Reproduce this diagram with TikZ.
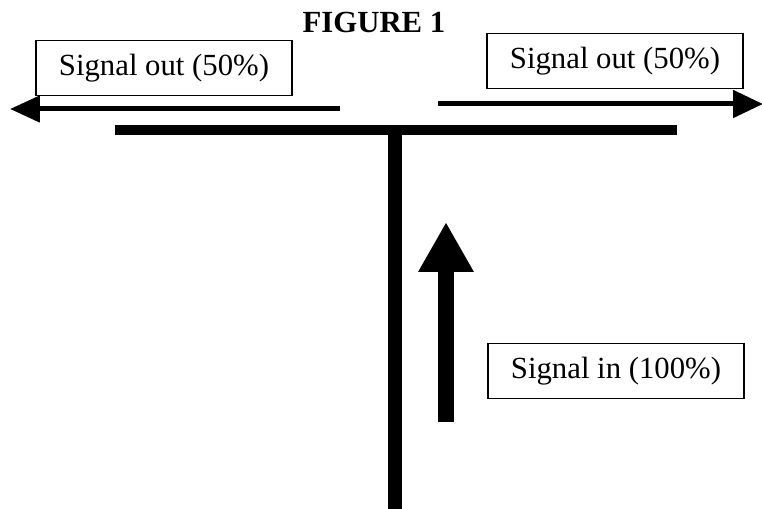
\documentclass[tikz,border=0pt]{standalone}
\usepackage{fontspec}
\setmainfont{Liberation Serif}
\usetikzlibrary{arrows.meta}
\begin{document}
\begin{tikzpicture}
  [x=0.02cm,y=-0.02cm,
   every node/.style={font=\fontsize{17.5}{20}\selectfont},
   signalbox/.style={draw,line width=0.8pt,minimum width=5.12cm,minimum height=1.1cm,inner sep=0pt}]
\useasboundingbox (0,0) rectangle (762,509);

\node (title) at (374,22) {\bfseries FIGURE 1};
\node (outl)[signalbox] at (164,68) {Signal out (50\%)};
  \node (outr)[signalbox] at (615,61) {Signal out (50\%)};
  \node (in)[signalbox] at (616,371) {Signal in (100\%)};

\coordinate (ls) at (340,109);
  \coordinate (le) at (10,109);
\coordinate (rs) at (438,104);
  \coordinate (re) at (763,104);
\coordinate (bl) at (115,130);
  \coordinate (br) at (677,130);
  \coordinate (bm) at (395,130);
  \coordinate (bb) at (395,509);
\coordinate (us) at (446,422);
  \coordinate (ue) at (446,222);

 \path [line width=0.1cm] (ls) edge [-{Triangle[length=0.6cm,width=0.52cm]}] (le);
 \path [line width=0.1cm] (rs) edge [-{Triangle[length=0.6cm,width=0.54cm]}] (re);

   \path [line width=0.2cm] (bl) edge (br);
   \path [line width=0.3cm] (bm) edge (bb);

 \path [line width=0.32cm] (us) edge [-{Triangle[length=1cm,width=1.04cm]}] (ue);
;
\end{tikzpicture}
\end{document}
